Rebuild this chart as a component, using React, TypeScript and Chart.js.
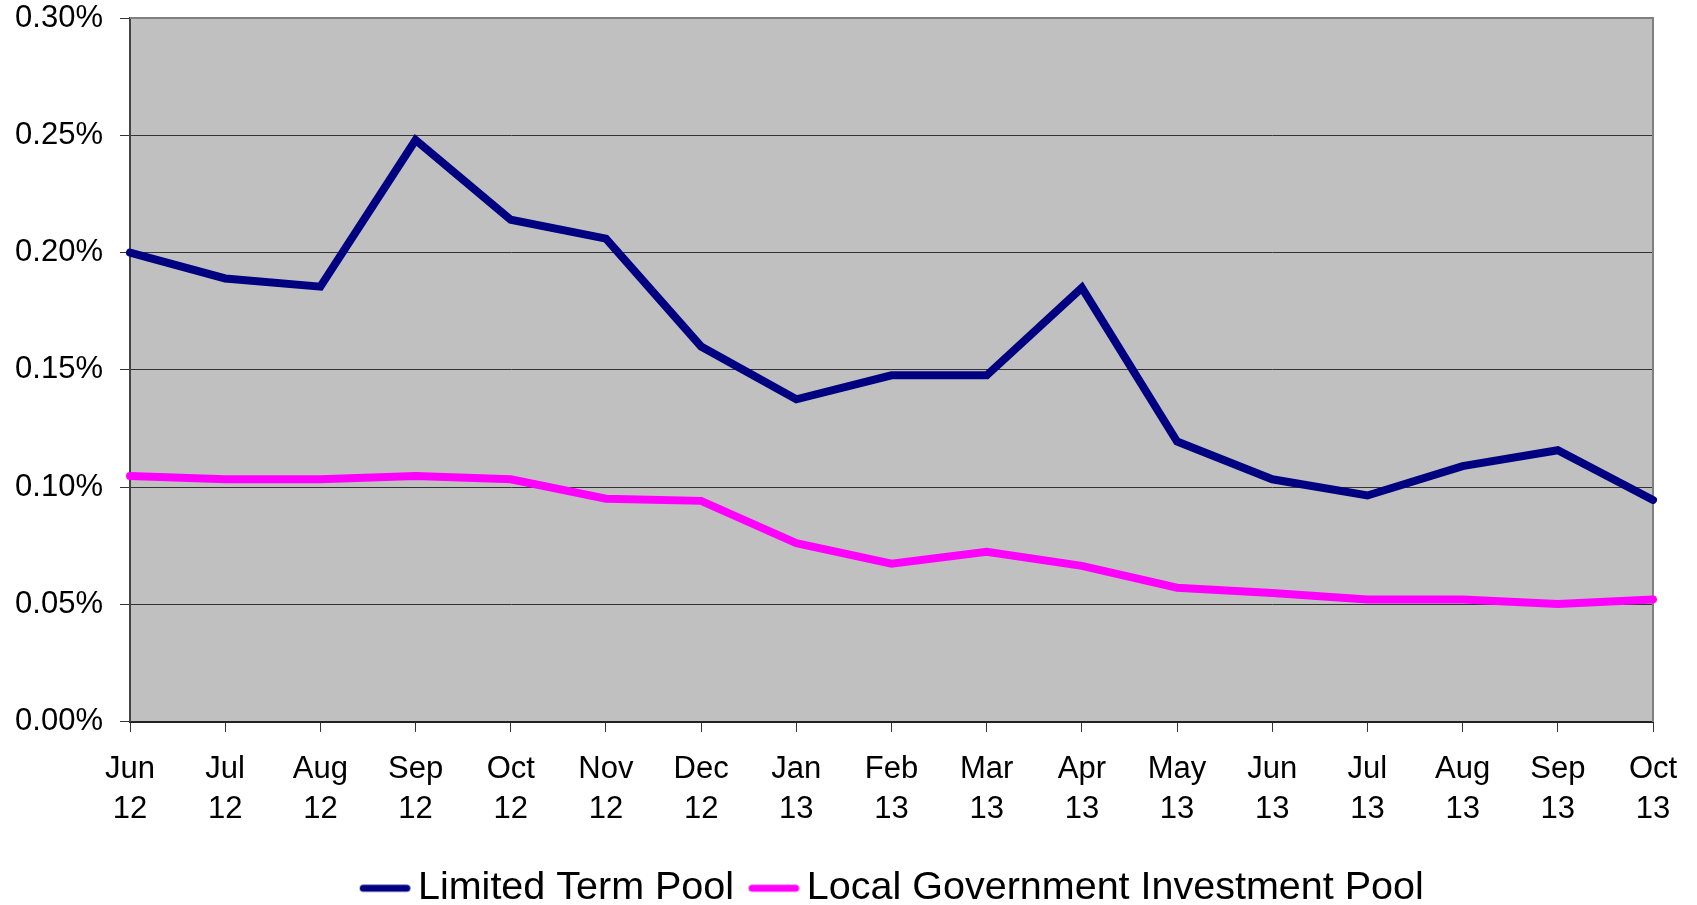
import React, { useEffect, useRef } from "react";
import { Chart, registerables } from "chart.js";

Chart.register(...registerables);

const months = [
  ["Jun", "12"], ["Jul", "12"], ["Aug", "12"], ["Sep", "12"], ["Oct", "12"], ["Nov", "12"],
  ["Dec", "12"], ["Jan", "13"], ["Feb", "13"], ["Mar", "13"], ["Apr", "13"], ["May", "13"],
  ["Jun", "13"], ["Jul", "13"], ["Aug", "13"], ["Sep", "13"], ["Oct", "13"],
];

const limitedTermPool = [
  0.200, 0.189, 0.1855, 0.248, 0.214, 0.206, 0.160, 0.1375, 0.1477, 0.1477, 0.185, 0.1195,
  0.1034, 0.0965, 0.109, 0.1158, 0.0946,
];

const localGovPool = [
  0.1048, 0.1034, 0.1034, 0.1048, 0.1034, 0.0951, 0.0942, 0.0762, 0.0674, 0.0725, 0.0665,
  0.0572, 0.0549, 0.0522, 0.0522, 0.0503, 0.0522,
];

const seriesNames = ["Limited Term Pool", "Local Government Investment Pool"];
const seriesColors = ["#000080", "#FF00FF"];

const FONT = "'Liberation Sans', Arial, sans-serif";

function makeMarker(color: string): HTMLCanvasElement {
  const c = document.createElement("canvas");
  c.width = 64;
  c.height = 12;
  const g = c.getContext("2d")!;
  g.strokeStyle = color;
  g.lineWidth = 7;
  g.lineCap = "round";
  g.beginPath();
  g.moveTo(13 + 3.5, 6);
  g.lineTo(63.5 - 3.5, 6);
  g.stroke();
  return c;
}

const plotBg = {
  id: "plotBg",
  beforeDraw(chart: any) {
    const { ctx, chartArea } = chart;
    ctx.save();
    ctx.fillStyle = "#C0C0C0";
    ctx.fillRect(chartArea.left, chartArea.top, chartArea.right - chartArea.left, chartArea.bottom - chartArea.top);
    ctx.restore();
  },
  beforeDatasetsDraw(chart: any) {
    const { ctx, chartArea } = chart;
    ctx.save();
    ctx.strokeStyle = "#808080";
    ctx.lineWidth = 2;
    ctx.beginPath();
    ctx.moveTo(chartArea.left, chartArea.top);
    ctx.lineTo(chartArea.right, chartArea.top);
    ctx.lineTo(chartArea.right, chartArea.bottom);
    ctx.stroke();
    ctx.restore();
  },
};

export default function App() {
  const ref = useRef<HTMLCanvasElement | null>(null);

  useEffect(() => {
    if (!ref.current) return;
    const markers = seriesColors.map(makeMarker);
    const chart = new Chart(ref.current, {
      type: "line",
      data: {
        labels: months,
        datasets: [
          {
            label: seriesNames[0],
            data: limitedTermPool,
            borderColor: seriesColors[0],
            backgroundColor: seriesColors[0],
            borderWidth: 8,
            pointRadius: 0,
            tension: 0,
            borderCapStyle: "round",
            borderJoinStyle: "miter",
          },
          {
            label: seriesNames[1],
            data: localGovPool,
            borderColor: seriesColors[1],
            backgroundColor: seriesColors[1],
            borderWidth: 8,
            pointRadius: 0,
            tension: 0,
            borderCapStyle: "round",
            borderJoinStyle: "miter",
          },
        ],
      },
      options: {
        responsive: false,
        animation: false,
        layout: { padding: { left: 0, right: 44, top: 18, bottom: -13 } },
        plugins: {
          tooltip: { enabled: false },
          legend: {
            position: "bottom",
            fullSize: false,
            labels: {
              usePointStyle: true,
              pointStyleWidth: 39,
              padding: 14,
              color: "#000",
              font: { family: FONT, size: 39.5 },
              generateLabels(ch: any) {
                const items = Chart.defaults.plugins.legend.labels.generateLabels(ch);
                return items.map((it: any, i: number) => ({ ...it, pointStyle: markers[i % markers.length] }));
              },
            },
          },
        },
        scales: {
          x: {
            type: "category",
            offset: false,
            afterFit(scale: any) {
              scale.height += 8;
            },
            grid: {
              display: true,
              drawOnChartArea: false,
              drawTicks: true,
              tickLength: 10,
              color: "#333",
              offset: false,
            },
            border: { display: true, color: "#222", width: 2 },
            ticks: {
              color: "#000",
              font: { family: FONT, size: 31, lineHeight: 1.3 },
              padding: 17,
              maxRotation: 0,
              autoSkip: false,
            },
          },
          y: {
            min: 0,
            max: 0.3,
            afterFit(scale: any) {
              scale.width = 130;
              scale.paddingTop = 0;
              scale.paddingBottom = 0;
            },
            grid: {
              color: "#333",
              lineWidth: 1,
              drawTicks: true,
              tickLength: 10,
            },
            border: { display: true, color: "#444", width: 2 },
            ticks: {
              stepSize: 0.05,
              color: "#000",
              padding: 17,
              font: { family: FONT, size: 31 },
              callback: (v: any) => Number(v).toFixed(2) + "%",
            },
          },
        },
      },
      plugins: [plotBg],
    });
    return () => chart.destroy();
  }, []);

  return (
    <div style={{ position: "absolute", left: 0, top: 0, width: 1697, height: 905, background: "#fff" }}>
      <canvas ref={ref} width={1697} height={905} style={{ display: "block" }} />
    </div>
  );
}
